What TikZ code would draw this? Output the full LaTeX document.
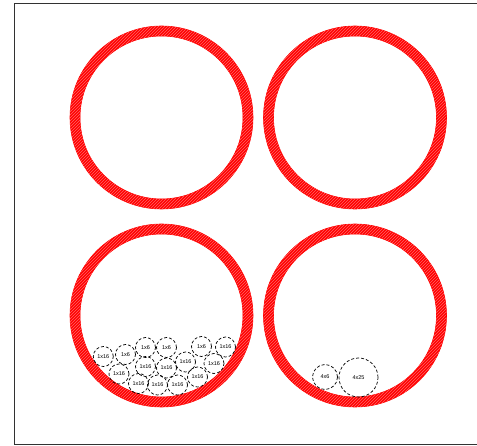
\documentclass[tikz,border=0pt]{standalone}
\usepackage{fontspec}
\setsansfont{Liberation Sans}
\usetikzlibrary{patterns}
\definecolor{ringred}{RGB}{255,0,0}
\definecolor{framegray}{RGB}{50,50,50}
\tikzset{
  ring/.style={fill=ringred, draw=ringred, line width=0.6pt, even odd rule},
  ringhatch/.style={pattern=north east lines, pattern color=white!40!ringred, even odd rule},
  part/.style={draw, circle, dash pattern=on 3pt off 2pt, line width=0.7pt,
    inner sep=0pt, minimum size=20pt, font=\sffamily\fontsize{5.5}{6}\selectfont},
}
\newcommand{\tube}[1]{%
  \fill[ring] (#1) circle (91.5) (#1) circle (81.5);
  \fill[ringhatch] (#1) circle (91.5) (#1) circle (81.5);
}
\begin{document}
\begin{tikzpicture}[x=1pt, y=-1pt]
  \useasboundingbox (0,0) rectangle (477,446);
  \draw[framegray, line width=0.9pt] (14,3) rectangle (490,444);

  % the four tubes
  \coordinate (tl) at (161.5,117.5);
  \coordinate (tr) at (355,117.5);
  \coordinate (bl) at (161.5,315.5);
  \coordinate (br) at (355,315.5);
  \tube{tl}
  \tube{tr}
  \tube{bl}
  \tube{br}

  % parts in the lower left tube
  \node[part] (a1) at (103.3,356.5) {1x16};
  \node[part] (a2) at (125.5,354.5) {1x6};
  \node[part] (a3) at (145.5,347.5) {1x6};
  \node[part] (a4) at (166.5,347.5) {1x6};
  \node[part] (a5) at (201.5,346.5) {1x6};
  \node[part] (a6) at (225.5,347) {1x16};
  \node[part] (b1) at (119,374) {1x16};
  \node[part] (b2) at (145.5,366.5) {1x16};
  \node[part] (b3) at (166.5,368) {1x16};
  \node[part] (b4) at (185.5,362) {1x16};
  \node[part] (b5) at (214,363.5) {1x16};
  \node[part] (c1) at (138.5,383.5) {1x16};
  \node[part] (c2) at (157.5,385) {1x16};
  \node[part] (c3) at (177.5,385) {1x16};
  \node[part] (c4) at (197.5,377) {1x16};

  % parts in the lower right tube
  \node[part, minimum size=25pt] (d1) at (325,377) {4x6};
  \node[part, minimum size=39pt] (d2) at (358.5,377.5) {4x25};
\end{tikzpicture}
\end{document}
